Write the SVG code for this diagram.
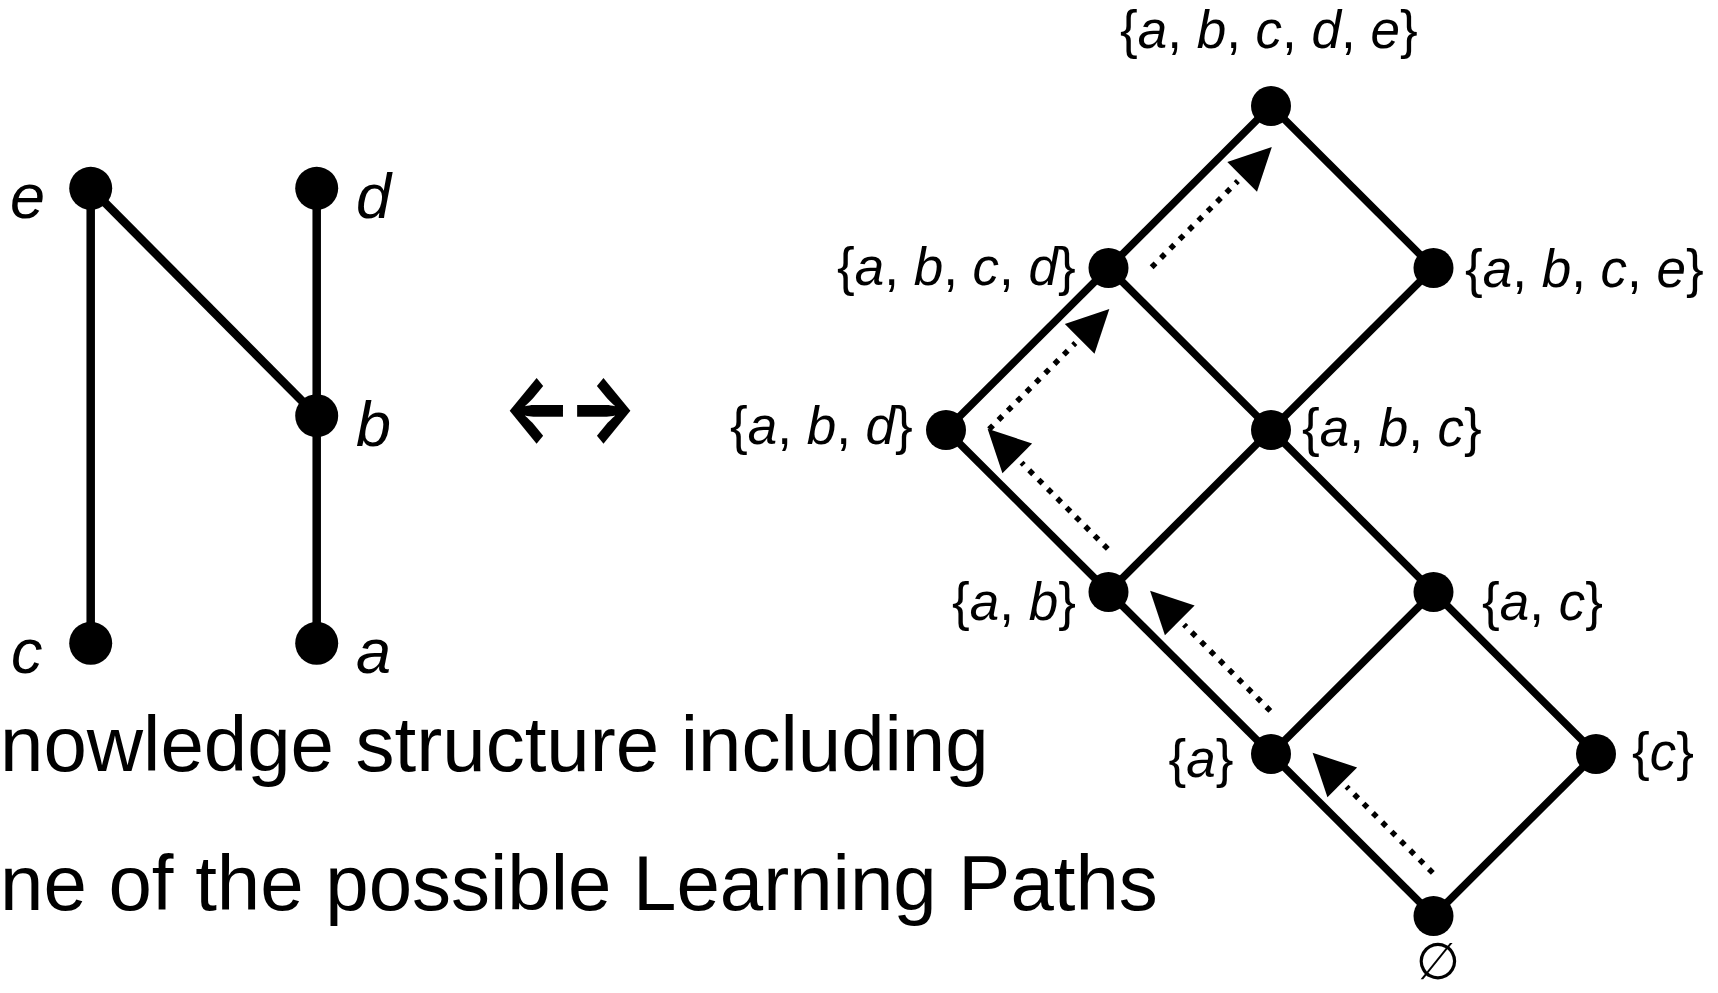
<svg xmlns="http://www.w3.org/2000/svg" width="1718" height="993" viewBox="0 0 1718 993">
  <style>
    .edge { stroke: #000; stroke-width: 8.5; stroke-linecap: butt; fill: none; }
    .ledge { stroke: #000; stroke-width: 7.5; stroke-linecap: butt; fill: none; }
    .node { fill: #000; }
    .path { stroke: #000; stroke-width: 5.5; stroke-dasharray: 5.5 7.7; fill: none; marker-end: url(#head); }
    .var { font-family: "Liberation Sans", Arial, sans-serif; font-size: 63px; font-style: italic; fill: #000; }
    .lbl { font-family: "Liberation Sans", Arial, sans-serif; font-size: 53px; fill: #000; }
    .it { font-style: italic; }
    .cap { font-family: "Liberation Sans", Arial, sans-serif; font-size: 78px; fill: #000; }
    .sym { font-family: Inter, "DejaVu Sans", sans-serif; font-weight: 800; font-size: 89px; letter-spacing: -5px; fill: #000; }
  </style>
  <defs>
    <marker id="head" markerUnits="userSpaceOnUse" viewBox="0 0 50 44" markerWidth="50" markerHeight="44" refX="0" refY="22" orient="auto">
      <path d="M6,1 L48,22 L6,43 z" fill="#000"/>
    </marker>
  </defs>

  <rect width="1718" height="993" fill="#fff"/>

  <!-- prerequisite graph (Hasse diagram of the items) -->
  <g id="prereq-edges">
    <line class="edge" x1="90.7" y1="188.3" x2="90.7" y2="643.3"/>
    <line class="edge" x1="90.7" y1="188.3" x2="316.7" y2="415.7"/>
    <line class="edge" x1="316.7" y1="188.3" x2="316.7" y2="643.3"/>
  </g>
  <g id="item-e"><circle class="node" cx="90.7" cy="188.3" r="21.5"/><text class="var" x="10" y="218">e</text></g>
  <g id="item-d"><circle class="node" cx="316.7" cy="188.3" r="21.5"/><text class="var" x="356" y="218">d</text></g>
  <g id="item-b"><circle class="node" cx="316.7" cy="415.7" r="21.5"/><text class="var" x="356" y="446">b</text></g>
  <g id="item-c"><circle class="node" cx="90.7" cy="643.3" r="21.5"/><text class="var" x="11" y="673">c</text></g>
  <g id="item-a"><circle class="node" cx="316.7" cy="643.3" r="21.5"/><text class="var" x="356" y="673">a</text></g>

  <!-- equivalence sign -->
  <text class="sym" x="-2.5" y="0" text-anchor="middle" transform="translate(570,439) scale(0.82,1)">←→</text>

  <!-- caption -->
  <text class="cap" x="0" y="771">nowledge structure including</text>
  <text class="cap" x="0" y="910">ne of the possible Learning Paths</text>

  <!-- knowledge structure lattice: edges -->
  <g id="lattice-edges">
    <line class="ledge" x1="1271" y1="106" x2="1108.5" y2="268"/>
    <line class="ledge" x1="1271" y1="106" x2="1433.5" y2="268"/>
    <line class="ledge" x1="1108.5" y1="268" x2="946" y2="430"/>
    <line class="ledge" x1="1108.5" y1="268" x2="1271" y2="430"/>
    <line class="ledge" x1="1433.5" y1="268" x2="1271" y2="430"/>
    <line class="ledge" x1="946" y1="430" x2="1108.5" y2="592"/>
    <line class="ledge" x1="1271" y1="430" x2="1108.5" y2="592"/>
    <line class="ledge" x1="1271" y1="430" x2="1433.5" y2="592"/>
    <line class="ledge" x1="1108.5" y1="592" x2="1271" y2="754"/>
    <line class="ledge" x1="1433.5" y1="592" x2="1271" y2="754"/>
    <line class="ledge" x1="1433.5" y1="592" x2="1596" y2="754"/>
    <line class="ledge" x1="1271" y1="754" x2="1433.5" y2="916"/>
    <line class="ledge" x1="1596" y1="754" x2="1433.5" y2="916"/>
  </g>

  <!-- learning path -->
  <g id="learning-path">
    <path class="path" d="M1432.79,872.87 L1346.52,786.60"/>
    <path class="path" d="M1270.29,710.87 L1184.02,624.60"/>
    <path class="path" d="M1107.79,548.87 L1021.52,462.60"/>
    <path class="path" d="M989.13,429.29 L1075.40,343.02"/>
    <path class="path" d="M1151.63,267.29 L1237.90,181.02"/>
  </g>

  <!-- lattice states -->
  <g id="state-abcde"><circle class="node" cx="1271" cy="106" r="20"/>
    <text class="lbl" x="1120" y="48">{<tspan class="it">a</tspan>, <tspan class="it">b</tspan>, <tspan class="it">c</tspan>, <tspan class="it">d</tspan>, <tspan class="it">e</tspan>}</text></g>
  <g id="state-abcd"><circle class="node" cx="1108.5" cy="268" r="20"/>
    <text class="lbl" x="837" y="285">{<tspan class="it">a</tspan>, <tspan class="it">b</tspan>, <tspan class="it">c</tspan>, <tspan class="it">d</tspan>}</text></g>
  <g id="state-abce"><circle class="node" cx="1433.5" cy="268" r="20"/>
    <text class="lbl" x="1465" y="287">{<tspan class="it">a</tspan>, <tspan class="it">b</tspan>, <tspan class="it">c</tspan>, <tspan class="it">e</tspan>}</text></g>
  <g id="state-abd"><circle class="node" cx="946" cy="430" r="20"/>
    <text class="lbl" x="730" y="444">{<tspan class="it">a</tspan>, <tspan class="it">b</tspan>, <tspan class="it">d</tspan>}</text></g>
  <g id="state-abc"><circle class="node" cx="1271" cy="430" r="20"/>
    <text class="lbl" x="1302" y="446">{<tspan class="it">a</tspan>, <tspan class="it">b</tspan>, <tspan class="it">c</tspan>}</text></g>
  <g id="state-ab"><circle class="node" cx="1108.5" cy="592" r="20"/>
    <text class="lbl" x="952" y="620">{<tspan class="it">a</tspan>, <tspan class="it">b</tspan>}</text></g>
  <g id="state-ac"><circle class="node" cx="1433.5" cy="592" r="20"/>
    <text class="lbl" x="1482" y="620">{<tspan class="it">a</tspan>, <tspan class="it">c</tspan>}</text></g>
  <g id="state-a"><circle class="node" cx="1271" cy="754" r="20"/>
    <text class="lbl" x="1168.5" y="777">{<tspan class="it">a</tspan>}</text></g>
  <g id="state-c"><circle class="node" cx="1596" cy="754" r="20"/>
    <text class="lbl" x="1632" y="770">{<tspan class="it">c</tspan>}</text></g>
  <g id="state-empty"><circle class="node" cx="1433.5" cy="916" r="20"/>
    <text class="lbl" x="1438" y="979" text-anchor="middle" style="font-family: 'DejaVu Sans', 'Liberation Sans', sans-serif; font-size: 51px">∅</text></g>
</svg>
